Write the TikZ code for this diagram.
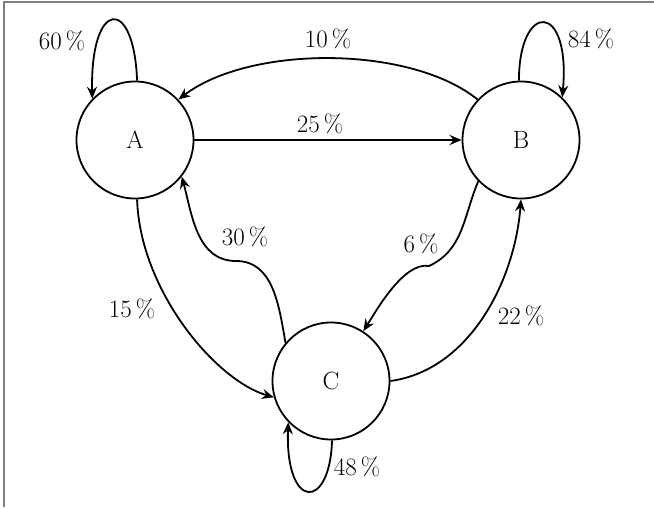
\documentclass[tikz,border=0pt]{standalone}
\usetikzlibrary{arrows.meta}
\begin{document}
\begin{tikzpicture}[x=1pt,y=1pt,
  every node/.style={font=\fontsize{25}{30}\selectfont},
  state/.style={circle,draw,line width=1.8pt,minimum size=117pt,inner sep=0pt},
  edge/.style={line width=1.8pt,-{Stealth[length=12pt,width=10pt,inset=4pt]}},
  lbl/.style={inner sep=0pt}]
\useasboundingbox (0,0) rectangle (654,507);
\draw[gray,line width=2pt] (3.5,0) -- (3.5,505) -- (654,505);
\node[state] (A) at (135,367) {A};
\node[state] (B) at (521,367) {B};
\node[state] (C) at (331,126) {C};
\coordinate (m1) at (236,246);
\coordinate (m2) at (429,241);
% loops
\draw[edge] (A.88) .. controls (134,512) and (90,508) .. (A.136);
\draw[edge] (B.92) .. controls (519,506) and (571,506) .. (B.46);
\draw[edge] (C.-89) .. controls (330,-4) and (285,-4) .. (C.224);
% edges
\draw[edge] (A) -- (B);
\draw[edge] (B.137) .. controls (410,462) and (250,462) .. (A.43);
\draw[edge] (A.-88) .. controls (140,217) and (215,127) .. (C.196);
\draw[edge] (C.140) to[out=100,in=0] (m1) to[out=180,in=-75] (A.-38);
\draw[edge] (B.224) to[out=-113,in=25] (m2) to[out=170,in=58,looseness=0.7] (C.57);
\draw[edge] (C.east) .. controls (470,137) and (515,227) .. (B.south);
% labels
\node[lbl] (l60) at (62,466) {60\,\%};
\node[lbl] (l84) at (591,468) {84\,\%};
\node[lbl] (l10) at (328,468.5) {10\,\%};
\node[lbl] (l25) at (320,383) {25\,\%};
\node[lbl] (l30) at (245,270) {30\,\%};
\node[lbl] (l6) at (421,263) {6\,\%};
\node[lbl] (l15) at (132,198) {15\,\%};
\node[lbl] (l22) at (521,191) {22\,\%};
\node[lbl] (l48) at (357,40) {48\,\%};
\end{tikzpicture}
\end{document}
